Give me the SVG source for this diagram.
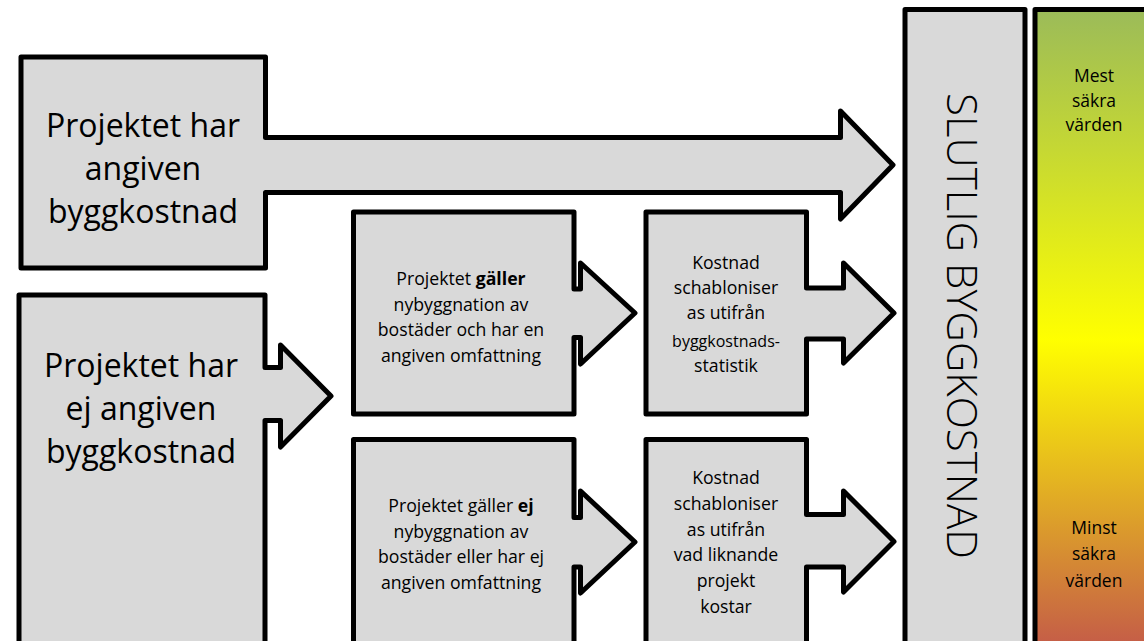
<svg xmlns="http://www.w3.org/2000/svg" width="1144" height="641" viewBox="0 0 1144 641">
  <defs>
    <linearGradient id="scale" x1="0" y1="0" x2="0" y2="1">
      <stop offset="0" stop-color="#9bbb59"/>
      <stop offset="0.5" stop-color="#ffff00"/>
      <stop offset="1" stop-color="#c0504d"/>
    </linearGradient>
    <style>
      .shape { fill: #d9d9d9; stroke: #000; stroke-width: 5; stroke-linejoin: round; }
      .big { font-family: "Open Sans", "Liberation Sans", sans-serif; font-size: 32px; fill: #000; text-anchor: middle; }
      .small { font-family: "Open Sans", "Liberation Sans", sans-serif; font-size: 17.7px; fill: #000; text-anchor: middle; }
      .side { font-family: "Open Sans", "Liberation Sans", sans-serif; font-size: 17.5px; fill: #000; text-anchor: middle; }
      .title { font-family: "Open Sans", "Liberation Sans", sans-serif; font-size: 42px; font-weight: 300; fill: #000; text-anchor: middle; }
      .b { font-weight: bold; }
    </style>
  </defs>
  <rect width="1144" height="641" fill="#fff"/>

  <g id="node-angiven">
    <path class="shape" d="M21,57 H265.5 V137.5 H840.5 V111 L893,165 L840.5,219 V192.5 H265.5 V268 H21 Z"/>
    <text class="big" x="143" y="137">Projektet har</text>
    <text class="big" x="143" y="180">angiven</text>
    <text class="big" x="143" y="223">byggkostnad</text>
  </g>

  <g id="node-ej-angiven">
    <path class="shape" d="M19,295 H265 V367.5 H280.5 V345 L331,396 L280.5,447 V420.5 H265 V660 H19 Z"/>
    <text class="big" x="141" y="377">Projektet har</text>
    <text class="big" x="141" y="420">ej angiven</text>
    <text class="big" x="141" y="463">byggkostnad</text>
  </g>

  <g id="node-galler">
    <path class="shape" d="M353.5,212 H574 V289 H580.5 V263 L635,313 L580.5,364 V337.5 H574 V414 H353.5 Z"/>
    <text class="small" x="461" y="285">Projektet <tspan class="b">gäller</tspan></text>
    <text class="small" x="461" y="310.5">nybyggnation av</text>
    <text class="small" x="461" y="336">bostäder och har en</text>
    <text class="small" x="461" y="361.5">angiven omfattning</text>
  </g>

  <g id="node-statistik">
    <path class="shape" d="M646,212 H806.5 V288 H843.5 V263 L894,313 L843.5,363 V339 H806.5 V414 H646 Z"/>
    <text class="small" x="726" y="268.5">Kostnad</text>
    <text class="small" x="726" y="293.5">schabloniser</text>
    <text class="small" x="726" y="319">as utifrån</text>
    <text class="small" x="726" y="346.5" style="font-size:16px">byggkostnads-</text>
    <text class="small" x="726" y="372">statistik</text>
  </g>

  <g id="node-galler-ej">
    <path class="shape" d="M353.5,439.5 H574 V517.5 H580.5 V491 L635,542 L580.5,593 V567 H574 V660 H353.5 Z"/>
    <text class="small" x="461" y="512">Projektet gäller <tspan class="b">ej</tspan></text>
    <text class="small" x="461" y="537.5">nybyggnation av</text>
    <text class="small" x="461" y="563">bostäder eller har ej</text>
    <text class="small" x="461" y="588.5">angiven omfattning</text>
  </g>

  <g id="node-liknande">
    <path class="shape" d="M646,439.5 H806.5 V514.5 H843.5 V491 L894,541.5 L843.5,592 V567 H806.5 V660 H646 Z"/>
    <text class="small" x="726" y="484">Kostnad</text>
    <text class="small" x="726" y="509.8">schabloniser</text>
    <text class="small" x="726" y="535.6">as utifrån</text>
    <text class="small" x="726" y="561.4">vad liknande</text>
    <text class="small" x="726" y="587.2">projekt</text>
    <text class="small" x="726" y="613">kostar</text>
  </g>

  <g id="node-slutlig">
    <rect class="shape" x="905" y="9.5" width="120" height="660"/>
    <text class="title" transform="translate(947,326) rotate(90)" x="0" y="0">SLUTLIG BYGGKOSTNAD</text>
  </g>

  <g id="node-scale">
    <rect x="1035" y="9.5" width="130" height="660" fill="url(#scale)" stroke="#000" stroke-width="5" stroke-linejoin="round"/>
    <text class="side" x="1094" y="82">Mest</text>
    <text class="side" x="1094" y="107">säkra</text>
    <text class="side" x="1094" y="131">värden</text>
    <text class="side" x="1094" y="534">Minst</text>
    <text class="side" x="1094" y="560">säkra</text>
    <text class="side" x="1094" y="587">värden</text>
  </g>

  <g id="connectors"></g>
</svg>
